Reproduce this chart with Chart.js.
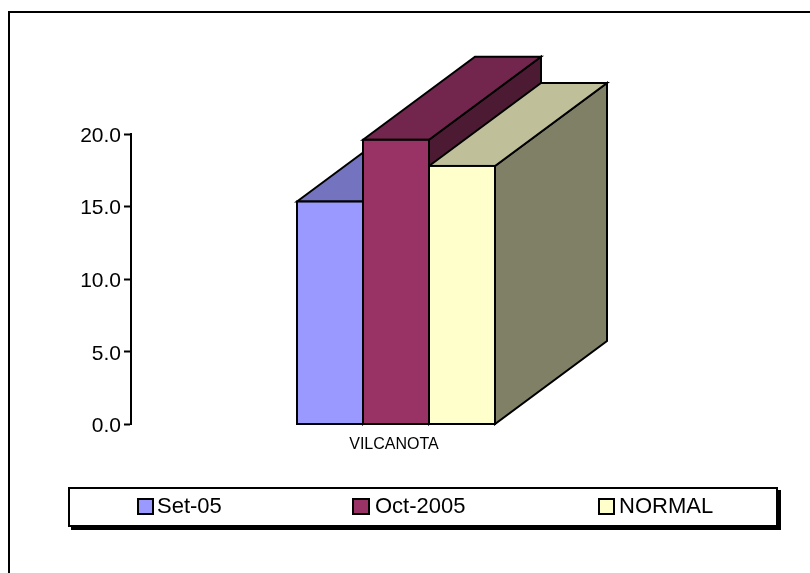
<!DOCTYPE html>
<html>
<head>
<meta charset="utf-8">
<style>
    html, body { margin: 0; padding: 0; background: #fff; overflow: hidden; }
    #wrap { position: relative; width: 810px; height: 573px; font-family: "Liberation Sans", Arial, sans-serif; }
    #chart { position: absolute; left: 0; top: 0; }
    #frame { position: absolute; left: 8px; top: 11px; width: 802px; height: 562px; box-sizing: border-box; border-left: 2px solid #000; border-top: 2px solid #000; }
    #legend { position: absolute; left: 68px; top: 487px; width: 710px; height: 40px; box-sizing: border-box; border: 2px solid #000; box-shadow: 3px 3px 0 #000; background: #fff; }
    .item { position: absolute; top: 0; height: 34px; display: flex; align-items: center; font-size: 22px; color: #000; white-space: nowrap; }
    .item:nth-child(1) { left: 67px; }
    .item:nth-child(2) { left: 282px; }
    .item:nth-child(3) { left: 528px; }
    .swatch { width: 17px; height: 17px; box-sizing: border-box; border: 2px solid #000; margin-right: 3px; }
    .item:nth-child(2) .swatch { width: 18px; margin-right: 5px; }
    .item:nth-child(3) .swatch { margin-right: 4px; }
</style>
</head>
<body>
<div id="wrap">
    <div id="frame"></div>
    <canvas id="chart" width="810" height="573"></canvas>
    <div id="legend"></div>
</div>
<script src="https://cdn.jsdelivr.net/npm/chart.js@4"></script>
<script>
const categories = ["VILCANOTA"];
const seriesNames = ["Set-05", "Oct-2005", "NORMAL"];
const setValues = [15.35];
const octValues = [19.6];
const normalValues = [17.8];
const yTickValues = [0, 5, 10, 15, 20];

const frontColors = ["#9999FF", "#993366", "#FFFFCC"];
const topColors = ["#7373BF", "#73264D", "#BFBF99"];
const sideColors = ["#4D4D80", "#4D1A33", "#808066"];

const DEPTH_X = 112;
const DEPTH_Y = 83;

function polygon(ctx, points, fill) {
    ctx.beginPath();
    points.forEach((p, i) => i ? ctx.lineTo(p[0], p[1]) : ctx.moveTo(p[0], p[1]));
    ctx.closePath();
    ctx.fillStyle = fill;
    ctx.fill();
    ctx.stroke();
}

// Extruded faces come from each bar's own scale-derived geometry.
// Depth goes under all the fronts, left to right, then the outlines go on top.
const bars3d = {
    id: "bars3d",
    beforeDatasetsDraw(chart) {
        const ctx = chart.ctx;
        ctx.save();
        ctx.strokeStyle = "#000";
        ctx.lineWidth = 2;
        seriesNames.forEach((name, i) => {
            chart.getDatasetMeta(i).data.forEach(bar => {
                const left = bar.x - bar.width / 2;
                const right = bar.x + bar.width / 2;
                polygon(ctx, [
                    [right, bar.y],
                    [right + DEPTH_X, bar.y - DEPTH_Y],
                    [right + DEPTH_X, bar.base - DEPTH_Y],
                    [right, bar.base]
                ], sideColors[i]);
                polygon(ctx, [
                    [left, bar.y],
                    [left + DEPTH_X, bar.y - DEPTH_Y],
                    [right + DEPTH_X, bar.y - DEPTH_Y],
                    [right, bar.y]
                ], topColors[i]);
            });
        });
        ctx.restore();
    },
    afterDatasetsDraw(chart) {
        const ctx = chart.ctx;
        ctx.save();
        ctx.strokeStyle = "#000";
        ctx.lineWidth = 2;
        seriesNames.forEach((name, i) => {
            chart.getDatasetMeta(i).data.forEach(bar => {
                ctx.strokeRect(bar.x - bar.width / 2, bar.y, bar.width, bar.base - bar.y);
            });
        });
        ctx.restore();
    }
};

const seriesValues = [setValues, octValues, normalValues];

new Chart(document.getElementById("chart"), {
    type: "bar",
    data: {
        labels: categories,
        datasets: seriesNames.map((name, i) => ({
            label: name,
            data: seriesValues[i],
            backgroundColor: frontColors[i],
            borderWidth: 0
        }))
    },
    options: {
        responsive: false,
        animation: false,
        layout: { padding: { left: 0, top: 134, right: 149, bottom: 0 } },
        categoryPercentage: 198 / 530,
        barPercentage: 1,
        plugins: {
            legend: { display: false },
            tooltip: { enabled: false },
            title: { display: false }
        },
        scales: {
            x: {
                grid: { display: false, drawTicks: false },
                border: { display: false },
                ticks: {
                    color: "#000",
                    padding: 10,
                    labelOffset: -2,
                    font: { family: "'Liberation Sans', Arial, sans-serif", size: 16 }
                },
                afterFit(scale) { scale.height = 148.5; }
            },
            y: {
                min: 0,
                max: 20,
                afterBuildTicks(scale) { scale.ticks = yTickValues.map(value => ({ value })); },
                grid: { drawOnChartArea: false, color: "#000", tickColor: "#000", tickLength: 7, tickWidth: 2 },
                border: { color: "#000", width: 2 },
                ticks: {
                    color: "#000",
                    padding: 3,
                    labelOffset: 2,
                    font: { family: "'Liberation Sans', Arial, sans-serif", size: 21 },
                    callback: value => value.toFixed(1)
                },
                afterFit(scale) { scale.width = 131; }
            }
        }
    },
    plugins: [bars3d]
});

const legend = document.getElementById("legend");
seriesNames.forEach((name, i) => {
    const item = document.createElement("div");
    item.className = "item";
    const swatch = document.createElement("span");
    swatch.className = "swatch";
    swatch.style.background = frontColors[i];
    const label = document.createElement("span");
    label.textContent = name;
    item.append(swatch, label);
    legend.appendChild(item);
});
</script>
</body>
</html>
